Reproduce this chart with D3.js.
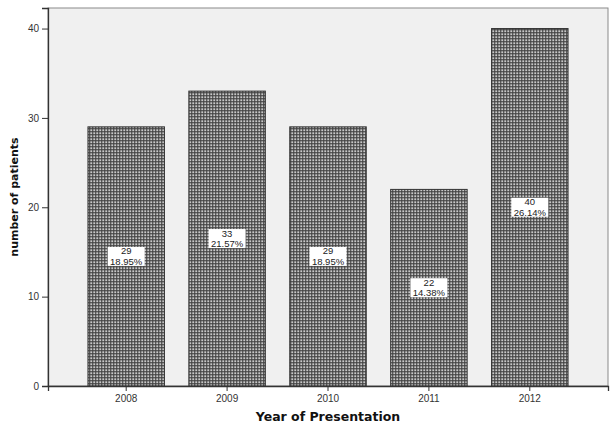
<!DOCTYPE html>
<html>
<head>
<meta charset="utf-8">
<script src="https://cdn.jsdelivr.net/npm/d3@7"></script>
<style>
  html, body { margin: 0; padding: 0; background: #ffffff; }
  svg { display: block; }
</style>
</head>
<body>
<svg id="chart" width="615" height="426"></svg>
<script>
// Patients per year of presentation
const years = ["2008", "2009", "2010", "2011", "2012"];
const counts = [29, 33, 29, 22, 40];
const percents = ["18.95%", "21.57%", "18.95%", "14.38%", "26.14%"];
const yTicks = [0, 10, 20, 30, 40];

const svg = d3.select("#chart");
const plotL = 48, plotR = 608, plotT = 8, plotB = 386;

const x = d3.scaleBand()
  .domain(years)
  .range([plotL, plotR])
  .paddingInner(0.242)
  .paddingOuter(0.396);

const y = d3.scaleLinear()
  .domain([0, 42.3])
  .range([plotB, plotT]);

// checkered fill used for the bars
const defs = svg.append("defs");
const pat = defs.append("pattern")
  .attr("id", "checks")
  .attr("patternUnits", "userSpaceOnUse")
  .attr("width", 3).attr("height", 3);
pat.append("rect").attr("width", 3).attr("height", 3).attr("fill", "#404040");
pat.append("rect").attr("x", 0.3).attr("y", 0.3).attr("width", 1.9).attr("height", 1.9).attr("fill", "#c8c8c8");

// plot background and frame
svg.append("rect")
  .attr("x", plotL).attr("y", plotT)
  .attr("width", plotR - plotL).attr("height", plotB - plotT)
  .attr("fill", "#f0f0f0")
  .attr("stroke", "#8a8a8a")
  .attr("stroke-width", 1);

// bars
svg.append("g").selectAll("rect")
  .data(years)
  .join("rect")
  .attr("x", d => x(d))
  .attr("y", (d, i) => y(counts[i]))
  .attr("width", x.bandwidth())
  .attr("height", (d, i) => y(0) - y(counts[i]))
  .attr("fill", "url(#checks)")
  .attr("stroke", "#333")
  .attr("stroke-width", 1);

// value labels: count over percentage in a white box
const lab = svg.append("g").selectAll("g")
  .data(years)
  .join("g")
  .attr("transform", (d, i) => `translate(${x(d) + x.bandwidth() / 2},${y(counts[i] / 2)})`);
lab.append("rect")
  .attr("x", -18.5).attr("y", -9.5)
  .attr("width", 37).attr("height", 19)
  .attr("fill", "#ffffff");
lab.append("text")
  .attr("text-anchor", "middle")
  .attr("y", -2)
  .attr("font-family", "Liberation Sans, Arial, sans-serif")
  .attr("font-size", 9.5)
  .attr("fill", "#222")
  .text((d, i) => counts[i]);
lab.append("text")
  .attr("text-anchor", "middle")
  .attr("y", 8.5)
  .attr("font-family", "Liberation Sans, Arial, sans-serif")
  .attr("font-size", 9.5)
  .attr("fill", "#222")
  .text((d, i) => percents[i]);

// axes
const yAxis = svg.append("g")
  .attr("transform", `translate(${plotL},0)`)
  .call(d3.axisLeft(y).tickValues(yTicks).tickSize(6).tickPadding(3));
const xAxis = svg.append("g")
  .attr("transform", `translate(0,${plotB})`)
  .call(d3.axisBottom(x).tickSize(5).tickPadding(4));

[yAxis, xAxis].forEach(g => {
  g.select(".domain").attr("stroke", "#333").attr("stroke-width", 1.3);
  g.selectAll(".tick line").attr("stroke", "#333");
  g.selectAll(".tick text")
    .attr("font-family", "Liberation Sans, Arial, sans-serif")
    .attr("font-size", 10)
    .attr("fill", "#333");
});

// axis titles
svg.append("text")
  .attr("transform", `translate(18,${(plotT + plotB) / 2}) rotate(-90)`)
  .attr("text-anchor", "middle")
  .attr("font-family", "DejaVu Sans, sans-serif")
  .attr("font-weight", "bold")
  .attr("font-size", 11)
  .attr("fill", "#111")
  .text("number of patients");

svg.append("text")
  .attr("x", (plotL + plotR) / 2)
  .attr("y", 421)
  .attr("text-anchor", "middle")
  .attr("font-family", "DejaVu Sans, sans-serif")
  .attr("font-weight", "bold")
  .attr("font-size", 12.5)
  .attr("fill", "#111")
  .text("Year of Presentation");
</script>
</body>
</html>
